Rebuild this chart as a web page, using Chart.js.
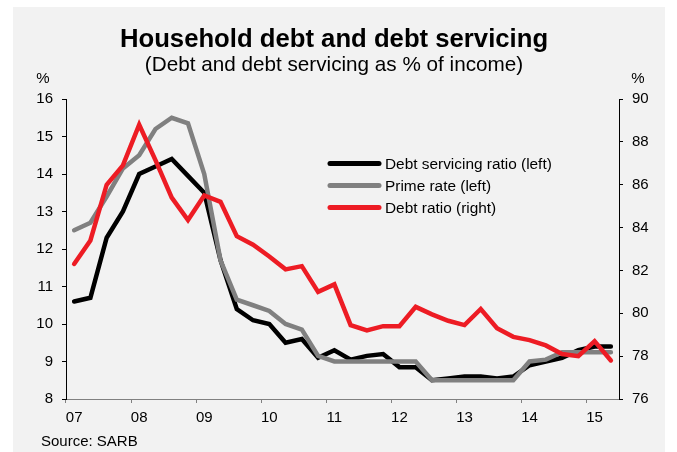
<!DOCTYPE html>
<html lang="en">
<head>
<meta charset="UTF-8">
<title>Household debt and debt servicing</title>
<script src="https://cdn.jsdelivr.net/npm/chart.js"></script>
<style>
  html, body { margin: 0; padding: 0; background: #ffffff; }
  #wrap { width: 677px; height: 452px; position: relative; }
</style>
</head>
<body>
<div id="wrap"><canvas id="chart" width="677" height="452"></canvas></div>
<script>
// quarterly categories, 2007Q1 - 2015Q2
const quarters = [
  '2007Q1','2007Q2','2007Q3','2007Q4','2008Q1','2008Q2','2008Q3','2008Q4',
  '2009Q1','2009Q2','2009Q3','2009Q4','2010Q1','2010Q2','2010Q3','2010Q4',
  '2011Q1','2011Q2','2011Q3','2011Q4','2012Q1','2012Q2','2012Q3','2012Q4',
  '2013Q1','2013Q2','2013Q3','2013Q4','2014Q1','2014Q2','2014Q3','2014Q4',
  '2015Q1','2015Q2'
];
const yearLabels = ['07','08','09','10','11','12','13','14','15'];

// % of income, left axis
const debtServicing = [
  10.6, 10.7, 12.3, 13.0, 14.0, 14.2, 14.4, 13.95,
  13.5, 11.7, 10.4, 10.1, 10.0, 9.5, 9.6, 9.1,
  9.3, 9.05, 9.15, 9.2, 8.85, 8.85, 8.5, 8.55,
  8.6, 8.6, 8.55, 8.6, 8.9, 9.0, 9.1, 9.3,
  9.4, 9.4
];
const primeRate = [
  12.5, 12.7, 13.4, 14.15, 14.5, 15.2, 15.5, 15.35,
  14.0, 11.7, 10.65, 10.5, 10.35, 10.0, 9.85, 9.15,
  9.0, 9.0, 9.0, 9.0, 9.0, 9.0, 8.5, 8.5,
  8.5, 8.5, 8.5, 8.5, 9.0, 9.05, 9.25, 9.25,
  9.25, 9.25
];
// % of income, right axis
const debtRatio = [
  82.3, 83.4, 86.0, 86.9, 88.8, 87.15, 85.4, 84.35,
  85.5, 85.2, 83.6, 83.2, 82.65, 82.05, 82.2, 81.0,
  81.35, 79.45, 79.2, 79.4, 79.4, 80.3, 79.95, 79.65,
  79.45, 80.2, 79.3, 78.9, 78.75, 78.5, 78.1, 78.0,
  78.7, 77.8
];

const FONT = "'Liberation Sans', Arial, sans-serif";

// background panel, titles, unit labels, source and the legend
const decorPlugin = {
  id: 'decor',
  beforeDraw(chart) {
    const ctx = chart.ctx;
    ctx.save();
    ctx.fillStyle = '#f2f2f2';
    ctx.fillRect(13, 7, 652, 445);
    ctx.restore();
  },
  afterDraw(chart) {
    const ctx = chart.ctx;
    ctx.save();
    ctx.fillStyle = '#000';
    ctx.textBaseline = 'alphabetic';
    ctx.textAlign = 'center';
    ctx.font = 'bold 25.7px ' + FONT;
    ctx.fillText('Household debt and debt servicing', 334, 46.5);
    ctx.font = '20.7px ' + FONT;
    ctx.fillText('(Debt and debt servicing as % of income)', 334, 71);

    ctx.font = '15px ' + FONT;
    ctx.fillText('%', 43, 83);
    ctx.fillText('%', 638, 83);
    ctx.textAlign = 'left';
    ctx.fillText('Source: SARB', 41, 446);

    // legend
    ctx.font = '15.4px ' + FONT;
    chart.data.datasets.forEach((ds, i) => {
      const y = 163.5 + i * 22;
      ctx.strokeStyle = ds.borderColor;
      ctx.lineWidth = 5;
      ctx.lineCap = 'round';
      ctx.beginPath();
      ctx.moveTo(330, y);
      ctx.lineTo(379, y);
      ctx.stroke();
      ctx.fillText(ds.label, 385, y + 5.5);
    });
    ctx.restore();
  }
};

new Chart(document.getElementById('chart'), {
  type: 'line',
  data: {
    labels: quarters,
    datasets: [
      { label: 'Debt servicing ratio (left)', data: debtServicing, borderColor: '#000000', yAxisID: 'y', order: 3 },
      { label: 'Prime rate (left)', data: primeRate, borderColor: '#808080', yAxisID: 'y', order: 2 },
      { label: 'Debt ratio (right)', data: debtRatio, borderColor: '#ed1c24', yAxisID: 'y1', order: 1 }
    ]
  },
  options: {
    responsive: false,
    animation: false,
    devicePixelRatio: 1,
    layout: { padding: { top: 99, bottom: 0, left: 0, right: 0 } },
    elements: {
      line: { borderWidth: 4.5, tension: 0, borderCapStyle: 'round', borderJoinStyle: 'miter' },
      point: { radius: 0 }
    },
    plugins: {
      legend: { display: false },
      tooltip: { enabled: false }
    },
    scales: {
      x: {
        type: 'category',
        offset: true,
        afterFit(scale) { scale.height = 53; },
        border: { display: true, color: '#808080', width: 1 },
        grid: {
          offset: true,
          drawOnChartArea: false,
          drawTicks: true,
          tickLength: 4,
          color: ctx => (ctx.index % 4 === 0 ? '#808080' : 'rgba(0,0,0,0)')
        },
        ticks: {
          autoSkip: false,
          maxRotation: 0,
          padding: 6,
          color: '#000',
          font: { family: FONT, size: 15 },
          callback: (val, index) => (index % 4 === 0 ? yearLabels[index / 4] : '')
        }
      },
      y: {
        position: 'left',
        min: 8, max: 16,
        afterFit(scale) { scale.width = 66; },
        border: { display: true, color: '#000', width: 1 },
        grid: { drawOnChartArea: false, tickLength: 4, color: '#000' },
        ticks: { stepSize: 1, padding: 9, color: '#000', font: { family: FONT, size: 15 } }
      },
      y1: {
        position: 'right',
        min: 76, max: 90,
        afterFit(scale) { scale.width = 58; },
        border: { display: true, color: '#000', width: 1 },
        grid: { drawOnChartArea: false, tickLength: 4, color: '#000' },
        ticks: { stepSize: 2, padding: 9, color: '#000', font: { family: FONT, size: 15 } }
      }
    }
  },
  plugins: [decorPlugin]
});
</script>
</body>
</html>
